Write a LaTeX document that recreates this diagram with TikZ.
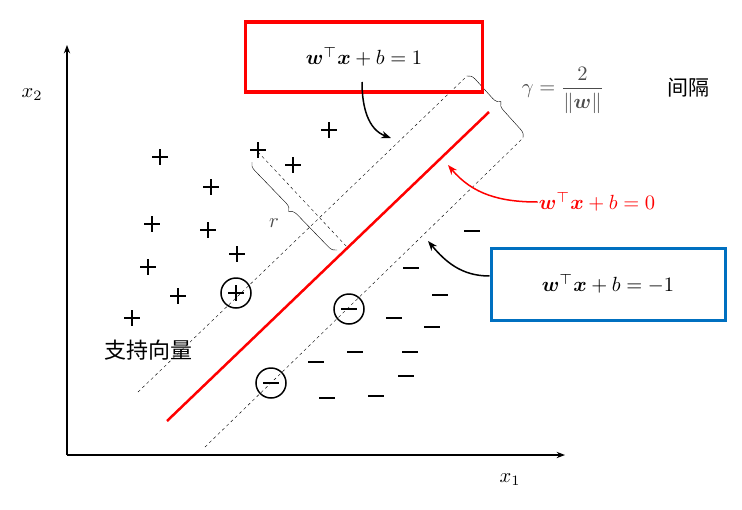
\documentclass[tikz,border=0pt]{standalone}
\usepackage{amsmath,bm}
\usepackage{fontspec}
\newfontfamily\cjk{Noto Sans CJK SC}
\usetikzlibrary{arrows.meta, calc, decorations.pathreplacing}

\newcommand{\bigtex}[1]{\scalebox{2.05}{#1}}
\tikzset{
	pluspt/.style={line width=2pt},
	bigtxt/.style={inner sep=1pt},
}

\begin{document}
\begin{tikzpicture}[>=Stealth, x=1pt, y=-1pt]
		\useasboundingbox (0,0) rectangle (742,509);
		% 坐标轴
		\coordinate (O) at (67,455);
		\draw[->, line width=1.2pt] (O) -- (67,45);
		\draw[->, line width=1.2pt] (O) -- (565,455);
		\node[bigtxt] (x2) at (32,95) {\bigtex{$x_2$}};
		\node[bigtxt] (x1) at (510,480) {\bigtex{$x_1$}};
		
		% 分隔超平面与两条间隔边界
		\coordinate (hA) at (167,421); \coordinate (hB) at (489,112);
		\coordinate (uA) at (138,392); \coordinate (uB) at (467,76);
		\coordinate (lA) at (205,447); \coordinate (lB) at (523,138);
		\draw[red, line width=2.5pt] (hA) -- (hB);
		\draw[dashed] (uA) -- (uB);
		\draw[dashed] (lA) -- (lB);
		
		% 正类样本
		\foreach \p in {(329,130),(160,157),(258,150),(293,165),(211,187),(152,224),
			(208,230),(148,267),(237,254),(178,296),(132,318),(236,293)}
		\draw[pluspt] \p ++(-8,0) -- ++(16,0) \p ++(0,-8) -- ++(0,16);
		% 负类样本
		\foreach \p in {(472,231),(411,268),(440,295),(394,318),(432,327),(355,352),
			(316,362),(410,352),(406,376),(327,398),(376,396),(349,309),(271,383)}
		\draw[pluspt] \p ++(-8,0) -- ++(16,0);
		% 支持向量圈
		\foreach \p in {(236,293),(349,309),(271,383)}
		\draw[line width=1.5pt] \p circle (15);
		\node[bigtxt, font=\cjk\fontsize{22}{26}\selectfont] (sv) at (148,350) {支持向量};
		
		% 距离 r
		\coordinate (rP) at (258,152); \coordinate (rQ) at (347,247);
		\draw[dashed] (rP) -- (rQ);
		\draw[decorate, decoration={brace, amplitude=8pt}] (337,250) -- (252,162);
		\node[bigtxt, gray!60!black] (r) at (274,223) {\bigtex{$r$}};
		
		% 间隔 gamma
		\draw[decorate, decoration={brace, amplitude=8pt}] (uB) -- (lB);
		\node[bigtxt, gray!60!black] (gam) at (563,90) {\bigtex{$\gamma=\dfrac{2}{\|\bm{w}\|}$}};
		\node[bigtxt, font=\cjk\fontsize{21}{25}\selectfont] (gap) at (688,88) {间隔};
		
		% 三个方程标注
		\node[bigtxt, draw=red, line width=3.5pt, minimum width=237pt, minimum height=70pt]
			(eq1) at (364,57) {\bigtex{$\bm{w}^\top\bm{x}+b=1$}};
		\node[bigtxt, red] (eq0) at (597,202) {\bigtex{$\bm{w}^\top\bm{x}+b=0$}};
		\node[bigtxt, draw={rgb,255:red,0;green,112;blue,192}, line width=3pt,
			minimum width=234pt, minimum height=72pt] (eqm) at (608,284) {\bigtex{$\bm{w}^\top\bm{x}+b=-1$}};
		\draw[->, line width=1.5pt] (362,82) to[out=-90, in=160] (391,138);
		\draw[->, red, line width=1.5pt] (eq0.west) to[out=180, in=-50] (448,165);
		\draw[->, line width=1.5pt] (eqm.west) ++(0,-8) to[out=180, in=-50] (428,241);
	\end{tikzpicture}
\end{document}
